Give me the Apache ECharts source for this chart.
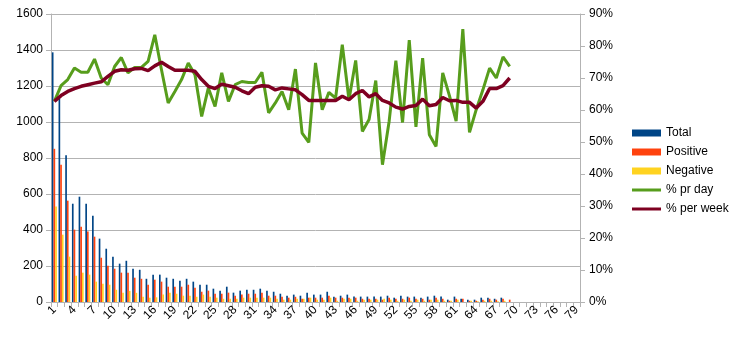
<!DOCTYPE html>
<html>
<head>
<meta charset="utf-8">
<script src="https://cdn.jsdelivr.net/npm/echarts@6/dist/echarts.min.js"></script>
<style>
  html, body { margin: 0; padding: 0; background: #fff; }
  #chart { width: 741px; height: 339px; }
</style>
</head>
<body>
<div id="chart"></div>
<script>
// day numbers on the x axis
const days = [];
for (let i = 1; i <= 79; i++) days.push(String(i));

// days 1..69
const total = [1387, 1130, 815, 546, 585, 546, 479, 352, 296, 252,
  213, 229, 185, 179, 129, 152, 152, 135, 129, 118,
  129, 113, 96, 96, 74, 63, 85, 52, 63, 68,
  68, 74, 63, 57, 46, 35, 41, 35, 52, 41,
  41, 57, 29, 35, 41, 30, 30, 30, 30, 30,
  35, 24, 35, 30, 30, 24, 30, 35, 30, 13,
  30, 18, 13, 13, 24, 24, 18, 24, null];

const positive = [851, 763, 563, 402, 418, 392, 363, 246, 202, 185,
  163, 163, 135, 129, 96, 124, 113, 85, 85, 85,
  96, 79, 57, 63, 46, 46, 52, 35, 41, 46,
  46, 52, 35, 35, 29, 24, 29, 18, 24, 24,
  24, 35, 24, 24, 24, 24, 18, 18, 18, 13,
  24, 18, 18, 24, 18, 18, 13, 24, 18, 7,
  18, 18, 7, 7, 13, 18, 13, 18, 13];

const negative = [531, 374, 252, 146, 163, 152, 113, 102, 96, 68,
  51, 62, 51, 29, 24, 26, 42, 52, 46, 35,
  35, 29, 41, 29, 24, 18, 18, 18, 24, 24,
  24, 24, 24, 18, 13, 13, 18, 18, 24, 13,
  13, 24, 7, 18, 18, 7, 13, 13, 13, 18,
  13, 7, 13, 7, 13, 7, 13, 13, 7, 7,
  13, null, 7, 4, 7, 7, 4, 7, null];

const pctDay = [62.7, 67.6, 69.5, 73.1, 71.8, 71.8, 75.9, 70.0, 67.9, 73.6,
  76.4, 71.6, 73.3, 73.3, 75.2, 83.5, 72.6, 62.2, 65.8, 69.5,
  74.7, 71.0, 58.0, 66.9, 61.1, 71.6, 62.7, 67.9, 68.9, 68.6,
  68.6, 71.8, 59.1, 62.2, 65.8, 60.1, 72.8, 52.8, 49.9, 74.7,
  60.1, 65.5, 63.7, 80.4, 63.2, 75.5, 53.3, 57.0, 69.2, 42.9,
  56.5, 75.4, 56.1, 81.8, 54.7, 76.2, 52.3, 48.6, 71.6, 64.5,
  56.5, 85.3, 53.0, 60.1, 66.3, 73.1, 70.0, 76.6, 73.6];

const pctWeek = [62.7, 64.5, 65.8, 66.7, 67.4, 67.9, 68.4, 68.8, 70.5, 72.1,
  72.6, 72.4, 72.9, 73.0, 72.3, 73.8, 74.9, 73.6, 72.4, 72.4,
  72.4, 72.1, 69.5, 67.4, 66.7, 68.1, 67.6, 67.1, 66.0, 65.1,
  67.1, 67.6, 67.4, 66.3, 66.9, 66.6, 66.3, 64.8, 63.0, 63.0,
  63.0, 63.0, 63.0, 64.3, 63.2, 65.1, 66.1, 64.1, 65.1, 63.0,
  62.2, 60.9, 60.3, 61.1, 61.4, 63.4, 61.3, 61.7, 63.9, 62.9,
  63.0, 62.4, 62.4, 60.6, 62.7, 66.7, 66.7, 67.6, 70.0];

const lineIcon = 'path://M0,0 L29,0 L29,3 L0,3 Z';
const axisGray = '#b3b3b3';
const font = 'Liberation Sans';

const myChart = echarts.init(document.getElementById('chart'), null, { renderer: 'canvas' });

const option = {
  animation: false,
  textStyle: { fontFamily: font },
  grid: { left: 51, right: 161, top: 14, bottom: 37, containLabel: false },
  legend: {
    orient: 'vertical',
    left: 627,
    top: 122,
    itemWidth: 29,
    itemHeight: 7,
    itemGap: 7,
    symbolKeepAspect: true,
    textStyle: { fontSize: 12, color: '#000', fontFamily: font, lineHeight: 12 },
    data: [
      { name: 'Total', icon: 'rect' },
      { name: 'Positive', icon: 'rect' },
      { name: 'Negative', icon: 'rect' },
      { name: '% pr day', icon: lineIcon },
      { name: '% per week', icon: lineIcon }
    ]
  },
  xAxis: {
    type: 'category',
    data: days,
    boundaryGap: true,
    axisLine: { lineStyle: { color: axisGray } },
    axisTick: { show: true, interval: 0, length: 5, lineStyle: { color: axisGray } },
    axisLabel: { interval: 2, rotate: 45, fontSize: 12, color: '#000', margin: 6 },
    splitLine: { show: false }
  },
  yAxis: [{
    type: 'value',
    position: 'left',
    min: 0,
    max: 1600,
    interval: 200,
    axisLine: { show: true, lineStyle: { color: axisGray } },
    axisTick: { show: true, length: 5, lineStyle: { color: axisGray } },
    axisLabel: { fontSize: 12, color: '#000', margin: 8, formatter: v => String(v) },
    splitLine: { show: true, lineStyle: { color: axisGray } }
  }, {
    type: 'value',
    position: 'right',
    min: 0,
    max: 90,
    interval: 10,
    axisLine: { show: true, lineStyle: { color: axisGray } },
    axisTick: { show: true, length: 5, lineStyle: { color: axisGray } },
    axisLabel: { fontSize: 12, color: '#000', margin: 9, formatter: '{value}%' },
    splitLine: { show: false }
  }],
  series: [{
    name: 'Total',
    type: 'bar',
    data: total,
    barGap: '0%',
    barCategoryGap: '25%',
    itemStyle: { color: '#004586' }
  }, {
    name: 'Positive',
    type: 'bar',
    data: positive,
    itemStyle: { color: '#ff420e' }
  }, {
    name: 'Negative',
    type: 'bar',
    data: negative,
    itemStyle: { color: '#ffd320' }
  }, {
    name: '% pr day',
    type: 'line',
    yAxisIndex: 1,
    data: pctDay,
    symbol: 'none',
    color: '#579d1c',
    itemStyle: { color: '#579d1c' },
    lineStyle: { color: '#579d1c', width: 3 }
  }, {
    name: '% per week',
    type: 'line',
    yAxisIndex: 1,
    data: pctWeek,
    symbol: 'none',
    color: '#7e0021',
    itemStyle: { color: '#7e0021' },
    lineStyle: { color: '#7e0021', width: 3.5 }
  }]
};

myChart.setOption(option);
</script>
</body>
</html>
